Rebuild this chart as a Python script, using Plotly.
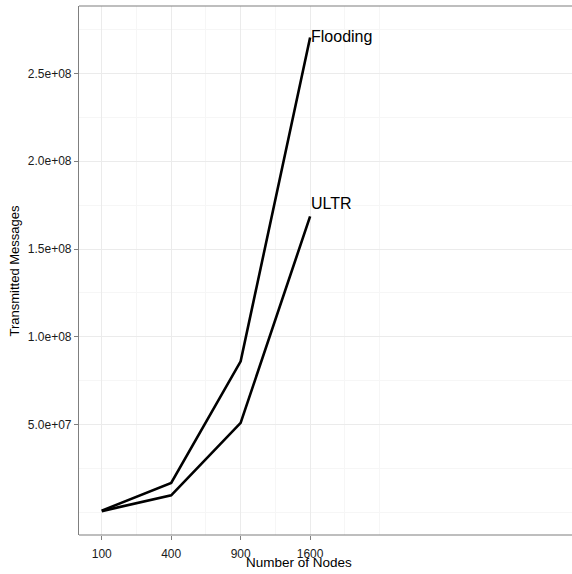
import plotly.graph_objects as go
import numpy as np

# Number of nodes (x) and transmitted message counts per protocol
nodes = [100, 400, 900, 1600]
flooding = [0.9e6, 1.67e7, 8.6e7, 2.705e8]
ultr = [0.6e6, 9.6e6, 5.09e7, 1.686e8]

# End-of-line labels and their y positions
series_names = ["Flooding", "ULTR"]
label_y = [2.71e8, 1.76e8]

x_tick_labels = ["100", "400", "900", "1600"]
y_tick_vals = [5e7, 1e8, 1.5e8, 2e8, 2.5e8]
y_tick_labels = ["5.0e+07", "1.0e+08", "1.5e+08", "2.0e+08", "2.5e+08"]

sx = np.sqrt(nodes)  # square-root x scale

fig = go.Figure()
for ys in (flooding, ultr):
    fig.add_trace(go.Scatter(x=sx, y=ys, mode="lines",
                             line=dict(color="black", width=2.6),
                             showlegend=False, hoverinfo="skip"))

for name, ly, ys in zip(series_names, label_y, (flooding, ultr)):
    fig.add_annotation(x=sx[-1], y=ly, text=name, showarrow=False,
                       xanchor="left", yanchor="middle", xshift=-1,
                       font=dict(size=16, color="black",
                                 family="Liberation Sans, Arial, sans-serif"))

grid_major = "#ebebeb"
grid_minor = "#f6f6f6"
border = "#7f7f7f"

fig.update_layout(
    width=572, height=574,
    margin=dict(l=79, r=0, t=5.5, b=39),
    paper_bgcolor="white", plot_bgcolor="white",
    font=dict(family="Liberation Sans, Arial, sans-serif", color="#1a1a1a"),
    xaxis=dict(
        range=[6.73, 77.7],
        tickmode="array", tickvals=list(sx), ticktext=x_tick_labels,
        tickfont=dict(size=12, color="#1a1a1a"),
        ticks="outside", ticklen=4, tickcolor=border, tickwidth=1,
        ticklabelstandoff=4,
        showgrid=True, gridcolor=grid_major, gridwidth=1,
        minor=dict(tickmode="array", tickvals=[15, 25, 35, 45, 50],
                   showgrid=True, gridcolor=grid_minor, gridwidth=1, ticks=""),
        showline=False, zeroline=False, fixedrange=True,
    ),
    yaxis=dict(
        range=[-1.30e7, 2.885e8],
        tickmode="array", tickvals=y_tick_vals, ticktext=y_tick_labels,
        tickfont=dict(size=12, color="#1a1a1a"),
        ticks="outside", ticklen=4, tickcolor=border, tickwidth=1,
        showgrid=True, gridcolor=grid_major, gridwidth=1,
        minor=dict(tickmode="array",
                   tickvals=[0, 2.5e7, 7.5e7, 1.25e8, 1.75e8, 2.25e8, 2.75e8],
                   showgrid=True, gridcolor=grid_minor, gridwidth=1, ticks=""),
        showline=True, linecolor=border, linewidth=1.2, mirror=False,
        zeroline=False, fixedrange=True,
    ),
)

# Panel border: top and bottom edges (open on the right)
for yy in (0, 1):
    fig.add_shape(type="line", xref="paper", yref="paper",
                  x0=0, x1=1.05, y0=yy, y1=yy,
                  line=dict(color=border, width=1.2), layer="above")

# Axis titles
fig.add_annotation(text="Number of Nodes", xref="paper", yref="paper",
                   x=(298.5 - 79) / (572 - 79), y=-(563 - 535) / 529.5,
                   xanchor="center", yanchor="middle", showarrow=False,
                   font=dict(size=13.5, color="black"))
fig.add_annotation(text="Transmitted Messages", xref="paper", yref="paper",
                   x=-(79 - 14) / (572 - 79), y=0.5, textangle=-90,
                   xanchor="center", yanchor="middle", showarrow=False,
                   font=dict(size=13, color="black"))

fig.write_html("out.html")
